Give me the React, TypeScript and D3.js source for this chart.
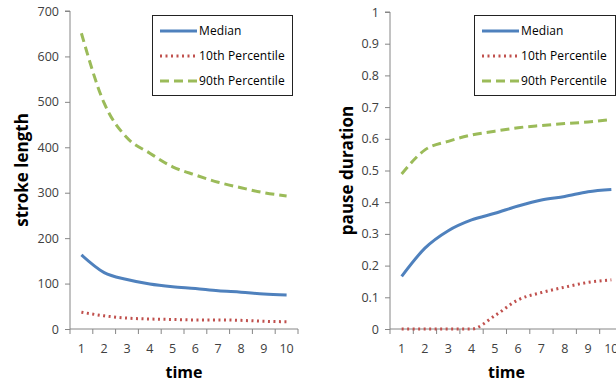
import { useEffect, useRef } from "react";
import * as d3 from "d3";

const WIDTH = 616;
const HEIGHT = 383;
const FONT = "Open Sans";
const AXIS_COLOR = "#868686";
const TICK_TEXT = "#404040";

const BLUE = "#4f81bd";
const RED = "#c0504d";
const GREEN = "#9bbb59";

const TIMES = ["1", "2", "3", "4", "5", "6", "7", "8", "9", "10"];
const SERIES_NAMES = ["Median", "10th Percentile", "90th Percentile"];

const STROKE_MEDIAN = [163, 124, 109, 99, 93, 89, 84, 81, 77, 75];
const STROKE_P10 = [37, 29, 24, 22, 21, 20, 20, 19, 17, 16];
const STROKE_P90 = [651, 497, 421, 387, 357, 339, 323, 311, 300, 293];
const STROKE_TICKS = [0, 100, 200, 300, 400, 500, 600, 700];

const PAUSE_MEDIAN = [0.166, 0.255, 0.31, 0.344, 0.365, 0.388, 0.407, 0.418, 0.433, 0.44];
const PAUSE_P10 = [0, 0, 0, 0, 0.042, 0.092, 0.115, 0.132, 0.147, 0.155];
const PAUSE_P90 = [0.489, 0.565, 0.592, 0.612, 0.624, 0.635, 0.642, 0.648, 0.653, 0.661];
const PAUSE_TICKS = [0, 0.1, 0.2, 0.3, 0.4, 0.5, 0.6, 0.7, 0.8, 0.9, 1];

const STYLES = [
  { color: BLUE, dash: null as string | null },
  { color: RED, dash: "2,3.5" },
  { color: GREEN, dash: "9,5" },
];

interface PanelSpec {
  x0: number;
  x1: number;
  yTop: number;
  yBottom: number;
  max: number;
  ticks: number[];
  series: number[][];
  yLabel: string;
  yLabelX: number;
  legendX: number;
  legendW: number;
}

function drawPanel(svg: d3.Selection<SVGSVGElement, unknown, null, undefined>, p: PanelSpec) {
  const g = svg.append("g");
  const x = d3.scaleBand().domain(TIMES).range([p.x0, p.x1]);
  const y = d3.scaleLinear().domain([0, p.max]).range([p.yBottom, p.yTop]);

  // y axis
  g.append("g")
    .attr("transform", `translate(${p.x0},0)`)
    .call(d3.axisLeft(y).tickValues(p.ticks).tickFormat((d) => String(d)).tickSize(5).tickPadding(6))
    .call((a) => a.select(".domain").attr("stroke", AXIS_COLOR).attr("d", `M-5,${y(p.max)}H0V${y(0)}`))
    .call((a) => a.selectAll(".tick line").attr("stroke", AXIS_COLOR))
    .call((a) =>
      a.selectAll(".tick text").attr("fill", TICK_TEXT).style("font-family", FONT).style("font-size", "12.5px")
    );

  // x axis, ticks sit on the band edges
  const xa = g.append("g").attr("transform", `translate(0,${p.yBottom})`);
  xa.append("line").attr("x1", p.x0).attr("x2", p.x1).attr("stroke", AXIS_COLOR);
  const bounds = TIMES.map((t) => x(t)!).concat([p.x1]);
  xa.selectAll("line.tk")
    .data(bounds)
    .enter()
    .append("line")
    .attr("class", "tk")
    .attr("x1", (d) => d)
    .attr("x2", (d) => d)
    .attr("y1", 0)
    .attr("y2", 5)
    .attr("stroke", AXIS_COLOR);
  xa.selectAll("text")
    .data(TIMES)
    .enter()
    .append("text")
    .attr("x", (d) => x(d)! + x.bandwidth() / 2)
    .attr("y", 24)
    .attr("text-anchor", "middle")
    .attr("fill", TICK_TEXT)
    .style("font-family", FONT)
    .style("font-size", "12.5px")
    .text((d) => d);

  // axis titles
  g.append("text")
    .attr("x", (p.x0 + p.x1) / 2)
    .attr("y", 378)
    .attr("text-anchor", "middle")
    .style("font-family", FONT)
    .style("font-weight", "bold")
    .style("font-size", "16px")
    .text("time");
  g.append("text")
    .attr("transform", `translate(${p.yLabelX},${(p.yTop + p.yBottom) / 2}) rotate(-90)`)
    .attr("text-anchor", "middle")
    .attr("dy", "0.35em")
    .style("font-family", FONT)
    .style("font-weight", "bold")
    .style("font-size", "17px")
    .text(p.yLabel);

  // lines
  const line = d3
    .line<number>()
    .x((_, i) => x(TIMES[i])! + x.bandwidth() / 2)
    .y((d) => y(d))
    .curve(d3.curveMonotoneX);
  p.series.forEach((s, i) => {
    g.append("path")
      .datum(s)
      .attr("d", line)
      .attr("fill", "none")
      .attr("stroke", STYLES[i].color)
      .attr("stroke-width", 3)
      .attr("stroke-dasharray", STYLES[i].dash);
  });

  // legend
  const lg = g.append("g").attr("transform", `translate(${p.legendX},15)`);
  lg.append("rect")
    .attr("x", 0.5)
    .attr("y", 0.5)
    .attr("width", p.legendW)
    .attr("height", 80)
    .attr("fill", "#fff")
    .attr("stroke", "#222");
  SERIES_NAMES.forEach((name, i) => {
    const yy = 16 + i * 25;
    lg.append("line")
      .attr("x1", 8)
      .attr("x2", 45)
      .attr("y1", yy)
      .attr("y2", yy)
      .attr("stroke", STYLES[i].color)
      .attr("stroke-width", 3)
      .attr("stroke-dasharray", STYLES[i].dash);
    lg.append("text")
      .attr("x", 47)
      .attr("y", yy)
      .attr("dy", "0.35em")
      .style("font-family", FONT)
      .style("font-size", "12px")
      .style("letter-spacing", "0.1px")
      .text(name);
  });
}

export default function App() {
  const svgRef = useRef<SVGSVGElement>(null);

  useEffect(() => {
    if (!svgRef.current) return;
    const svg = d3.select(svgRef.current);
    svg.selectAll("*").remove();

    drawPanel(svg, {
      x0: 70,
      x1: 298,
      yTop: 11,
      yBottom: 329,
      max: 700,
      ticks: STROKE_TICKS,
      series: [STROKE_MEDIAN, STROKE_P10, STROKE_P90],
      yLabel: "stroke length",
      yLabelX: 22,
      legendX: 152,
      legendW: 140,
    });

    drawPanel(svg, {
      x0: 390,
      x1: 623,
      yTop: 12,
      yBottom: 329,
      max: 1,
      ticks: PAUSE_TICKS,
      series: [PAUSE_MEDIAN, PAUSE_P10, PAUSE_P90],
      yLabel: "pause duration",
      yLabelX: 347,
      legendX: 474,
      legendW: 141,
    });
  }, []);

  return (
    <div style={{ position: "absolute", left: 0, top: 0 }}>
      <svg ref={svgRef} width={WIDTH} height={HEIGHT} style={{ display: "block", background: "#fff" }} />
    </div>
  );
}
